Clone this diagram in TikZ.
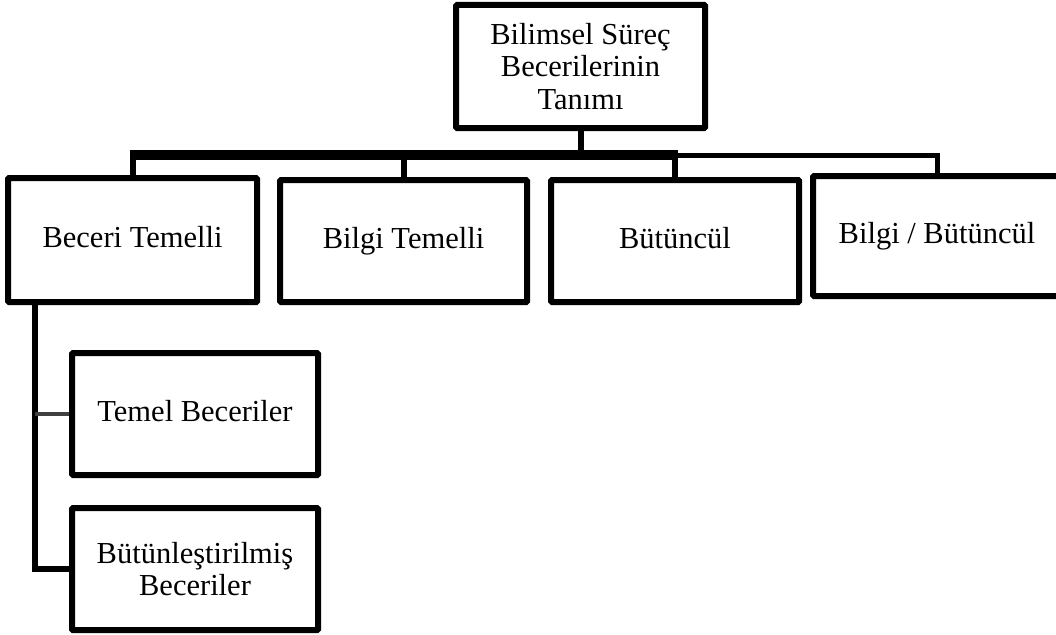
\documentclass[tikz,border=0pt]{standalone}
\usepackage{fontspec}
\setmainfont{Liberation Serif}
\begin{document}
\begin{tikzpicture}[x=1pt,y=-1pt,
  box/.style={draw=black, line width=6pt, rounded corners=1pt, fill=white,
    align=center, inner sep=0pt, font=\fontsize{30.5}{32.5}\selectfont},
  oneline/.style={box, text height=21pt, text depth=7pt},
  stem/.style={draw=black, line width=6pt},
  bus/.style={draw=black, line width=10pt},
  thinbus/.style={draw=black, line width=5pt},
  tap/.style={draw=black!75, line width=4.5pt}]
\useasboundingbox (0,0) rectangle (1056,634);

% root of the chart
\node[box, minimum width=249pt, minimum height=123pt] (root) at (580.5,66.5)
  {Bilimsel Süreç\\Becerilerinin\\Tanımı};

% first level
\node[oneline, minimum width=249pt, minimum height=124pt] (b1) at (132.5,240) {Beceri Temelli};
\node[oneline, minimum width=247pt, minimum height=122pt] (b2) at (403.5,241) {Bilgi Temelli};
\node[oneline, minimum width=248pt, minimum height=122pt] (b3) at (675,241) {Bütüncül};
\node[oneline, minimum width=248pt, minimum height=120pt] (b4) at (937,236) {Bilgi / Bütüncül};

% second level under "Beceri Temelli"
\node[oneline, minimum width=246pt, minimum height=122pt] (c1) at (195,414) {Temel Beceriler};
\node[box, minimum width=246pt, minimum height=122pt] (c2) at (195,569) {Bütünleştirilmiş\\Beceriler};

% connectors
\coordinate (j) at (580.5,155);
\coordinate (sp) at (35,302);
\draw[stem] (root.south) -- (j);
\draw[stem] (b1.north) -- (b1.north |- j);
\draw[stem] (b2.north) -- (b2.north |- j);
\draw[stem] (b3.north) -- (b3.north |- j);
\draw[thinbus] (b3.north |- j) -| (b4.north);
\draw[bus] ([xshift=-3pt]b1.north |- j) -- ([xshift=3pt]b3.north |- j);
\draw[stem] (sp) |- (c2.west);
\draw[tap] (sp |- c1.west) -- (c1.west);
\end{tikzpicture}
\end{document}
